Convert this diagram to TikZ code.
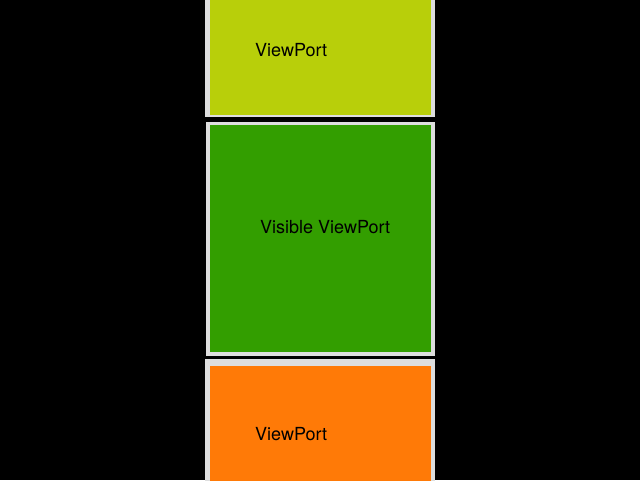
\documentclass[tikz,border=0pt]{standalone}
\usepackage{fontspec}
\setmainfont{TeX Gyre Heros}
\definecolor{TopClr}{RGB}{184,207,10}
\definecolor{MidClr}{RGB}{51,158,0}
\definecolor{BotClr}{RGB}{255,122,7}
\definecolor{EdgeClr}{RGB}{222,222,222}
\begin{document}
\begin{tikzpicture}[x=1pt,y=1pt,
  label/.style={anchor=base west,inner sep=0pt,font=\fontsize{18}{20}\selectfont}]
\fill[black] (0,0) rectangle (640,480);
\useasboundingbox (0,0) rectangle (640,480);

% top view port
\fill[EdgeClr] (205,363) rectangle (435,490);
\fill[TopClr] (210,365) rectangle (431,490);
% visible view port
\fill[EdgeClr] (206,124) rectangle (435,358);
\fill[MidClr] (210,128) rectangle (431,355);
% bottom view port
\fill[EdgeClr] (205,-10) rectangle (435,121);
\fill[BotClr] (210,-10) rectangle (431,114);

\node[label] (top) at (255,423) {ViewPort};
\node[label] (vis) at (260,246) {Visible ViewPort};
\node[label] (bot) at (255,40) {ViewPort};
\end{tikzpicture}
\end{document}
